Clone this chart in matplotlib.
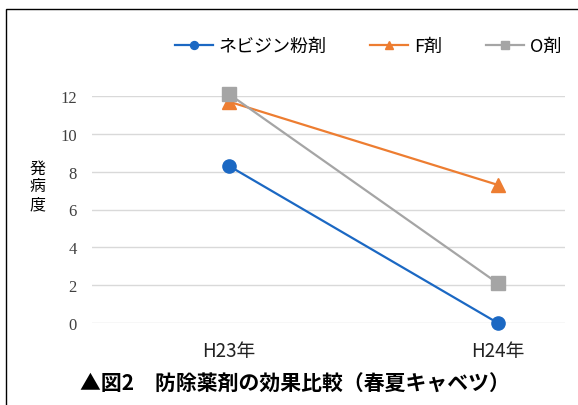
import matplotlib
matplotlib.use("Agg")
import matplotlib.pyplot as plt
from matplotlib.patches import Rectangle

plt.rcParams['font.family'] = ['Noto Sans CJK JP', 'DejaVu Sans']

# === Datos ===
years = ["H23年", "H24年"]
series_names = ["ネビジン粉剤", "F剤", "O剤"]
nebijin = [8.3, 0.0]
f_agent = [11.7, 7.3]
o_agent = [12.1, 2.1]
y_ticks = [0, 2, 4, 6, 8, 10, 12]

colors = ["#1b68c3", "#ed7d31", "#a5a5a5"]
markers = ["o", "^", "s"]

# === Figura ===
fig = plt.figure(figsize=(5.78, 4.06), dpi=100)
ax = fig.add_axes([92 / 578, 1 - 324 / 406, (565 - 92) / 578, (324 - 97) / 406])

x = list(range(len(years)))
for name, vals, c, m in zip(series_names, [nebijin, f_agent, o_agent], colors, markers):
    ax.plot(x, vals, color=c, lw=1.6, marker=m, markersize=9.5, label=name,
            clip_on=False, zorder=3)

ax.set_xlim(-0.51, 1.25)
ax.set_ylim(0, 12)
ax.set_yticks(y_ticks)
ax.set_xticks(x)
ax.set_xticklabels(years, fontsize=13.5, color="#222222")
for lbl in ax.get_yticklabels():
    lbl.set_family("Liberation Serif")
    lbl.set_fontsize(12)
    lbl.set_color("#404040")
ax.tick_params(axis="both", length=0)
ax.tick_params(axis="x", pad=12)
ax.tick_params(axis="y", pad=11)
ax.yaxis.grid(True, color="#d9d9d9", lw=1)
ax.set_axisbelow(True)
for s in ax.spines.values():
    s.set_visible(False)

# === Leyenda ===
fig.legend(loc="center", bbox_to_anchor=(368 / 578, 1 - 47 / 406), ncol=3,
           frameon=False, fontsize=13, handlelength=2.1, columnspacing=2.4,
           handletextpad=0.35, markerscale=0.6)

# === Etiqueta eje Y (vertical) ===
fig.text(38 / 578, 1 - 187 / 406, "発\n病\n度", fontsize=11.5, ha="center",
         va="center", linespacing=1.05)

# === Título inferior ===
fig.text(80 / 578, 1 - 384 / 406, "▲図2　防除薬剤の効果比較（春夏キャベツ）",
         fontsize=15, fontweight="bold", ha="left", va="center")

# === Marco ===
fig.patches.append(Rectangle((6 / 578, -0.2), 1.2, 1.2 - 10 / 406,
                             transform=fig.transFigure, fill=False,
                             edgecolor="black", lw=1.0))

fig.savefig("out.png", dpi=100)
